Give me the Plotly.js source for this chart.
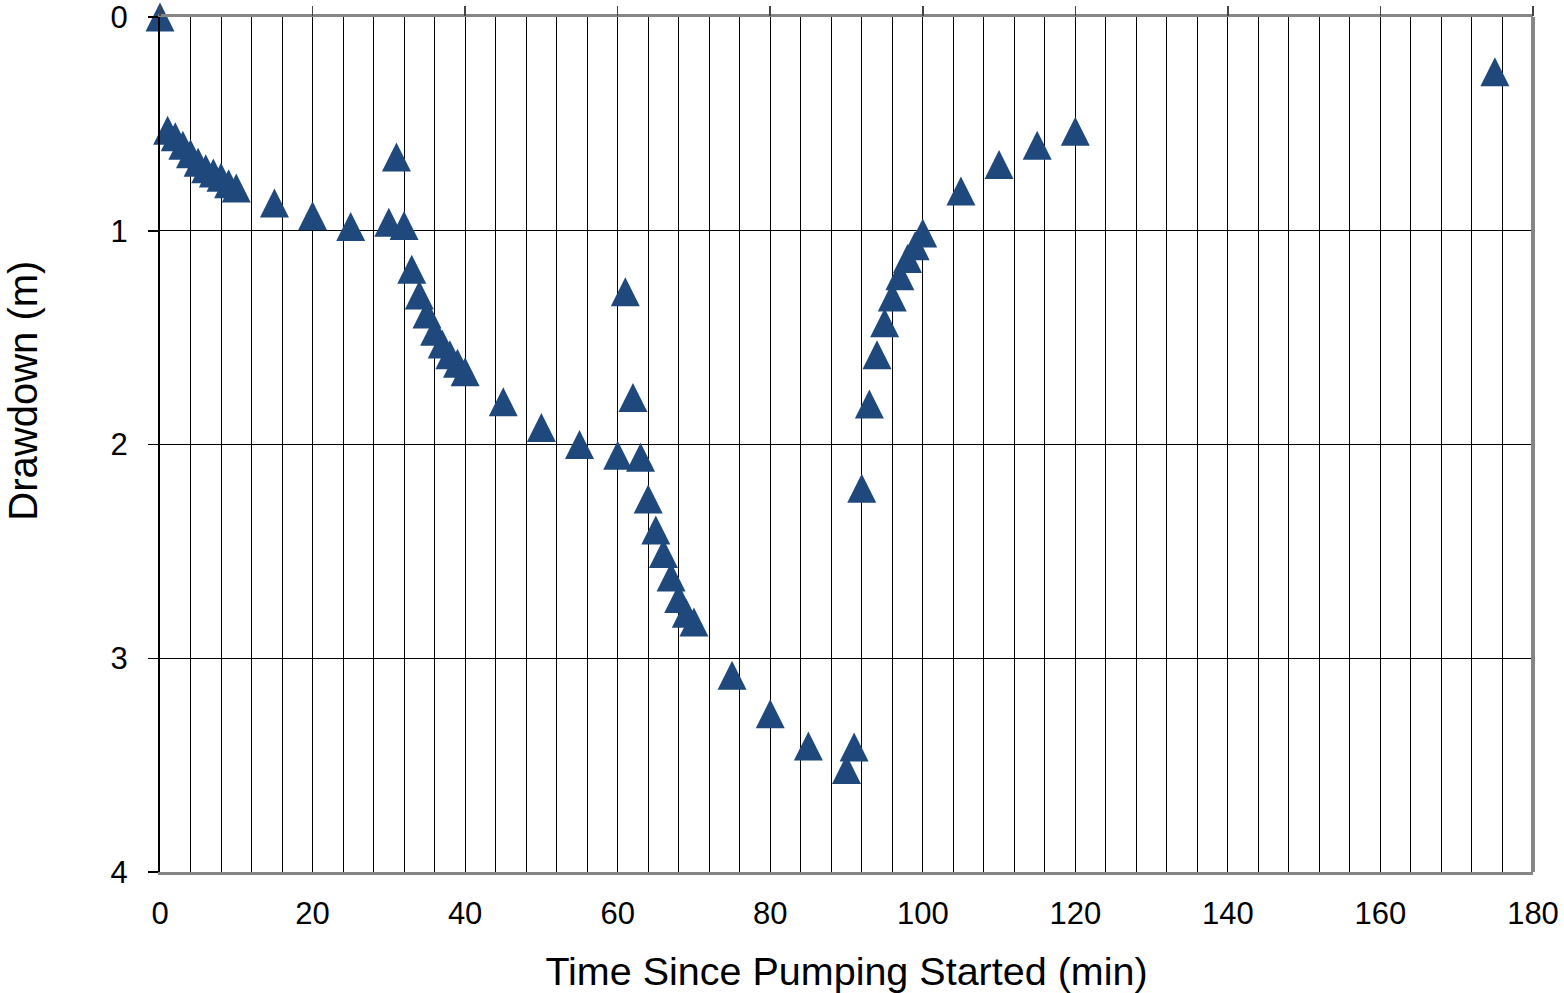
<!DOCTYPE html>
<html>
<head>
<meta charset="utf-8">
<script src="https://cdn.plot.ly/plotly-3.0.1.min.js"></script>
<style>
html,body{margin:0;padding:0;background:#fff;}
#chart{width:1564px;height:993px;}
</style>
</head>
<body>
<div id="chart"></div>
<script>
const timeMin = [0,1,2,3,4,5,6,7,8,9,10,15,20,25,30,31,32,33,34,35,36,37,38,39,40,45,50,55,60,61,62,63,64,65,66,67,68,69,70,75,80,85,90,91,92,93,94,95,96,97,98,99,100,105,110,115,120,175];
const drawdownM = [0,0.53,0.56,0.60,0.64,0.68,0.71,0.73,0.75,0.78,0.80,0.87,0.93,0.98,0.96,0.655,0.975,1.18,1.30,1.39,1.47,1.53,1.58,1.62,1.66,1.80,1.92,2.00,2.05,1.285,1.78,2.06,2.255,2.40,2.51,2.62,2.72,2.79,2.83,3.08,3.26,3.41,3.52,3.415,2.205,1.81,1.58,1.43,1.31,1.21,1.13,1.07,1.01,0.814,0.69,0.60,0.535,0.256];
const xTickVals = [0,20,40,60,80,100,120,140,160,180];
const yTickVals = [0,1,2,3,4];
const xTitle = 'Time Since Pumping Started (min)';
const yTitle = 'Drawdown (m)';

const FONT = 'Liberation Sans, Arial, sans-serif';
const MS = 29;

const trace = {
  x: timeMin,
  y: drawdownM,
  type: 'scatter',
  mode: 'markers',
  cliponaxis: false,
  marker: {symbol: 'arrow-down', angle: 180, standoff: MS / 2, size: MS, color: '#1F497D', line: {width: 0}},
  hoverinfo: 'x+y',
  showlegend: false
};

const layout = {
  width: 1564, height: 993,
  margin: {l: 160, r: 31, t: 17, b: 121},
  paper_bgcolor: '#ffffff',
  plot_bgcolor: '#ffffff',
  font: {family: FONT, size: 31, color: '#000'},
  showlegend: false,
  xaxis: {
    range: [0, 180],
    tickvals: xTickVals,
    ticks: '',
    showgrid: true,
    gridcolor: '#000',
    gridwidth: 1,
    minor: {dtick: 4, tick0: 0, showgrid: true, gridcolor: '#000', gridwidth: 1, ticks: ''},
    zeroline: false,
    showline: true,
    linecolor: '#868686',
    linewidth: 3,
    mirror: true,
    ticklabelstandoff: 12,
    ticklabeloverflow: 'allow',
    tickfont: {family: FONT, size: 31, color: '#000'},
    title: {text: xTitle, font: {family: FONT, size: 39.5, color: '#000'}, standoff: 28},
    fixedrange: true
  },
  xaxis2: {
    matches: 'x',
    overlaying: 'x',
    side: 'top',
    anchor: 'y',
    range: [0, 180],
    tickvals: xTickVals,
    ticks: 'outside',
    ticklen: 10,
    tickwidth: 1.5,
    tickcolor: '#444',
    showticklabels: false,
    showgrid: false,
    zeroline: false,
    showline: false
  },
  yaxis: {
    range: [4, 0],
    tickvals: yTickVals,
    ticks: 'outside',
    ticklen: 10,
    tickwidth: 1.5,
    tickcolor: '#000',
    showgrid: true,
    gridcolor: '#000',
    gridwidth: 1,
    zeroline: false,
    showline: true,
    linecolor: '#000',
    linewidth: 2,
    ticklabelstandoff: 14,
    ticklabeloverflow: 'allow',
    tickfont: {family: FONT, size: 31, color: '#000'},
    fixedrange: true
  },
  shapes: [
    {type: 'line', xref: 'paper', yref: 'paper', x0: 1, x1: 1, y0: 0, y1: 1, line: {color: '#868686', width: 4}}
  ],
  annotations: [
    {text: yTitle, xref: 'paper', yref: 'paper', x: -0.1, y: 0.5626, xanchor: 'center', yanchor: 'middle',
     textangle: -90, showarrow: false, font: {family: FONT, size: 40, color: '#000'}}
  ]
};

Plotly.newPlot('chart', [trace, Object.assign({}, trace, {xaxis: 'x2', x: [], y: []})], layout, {displayModeBar: false, staticPlot: true});
</script>
</body>
</html>
